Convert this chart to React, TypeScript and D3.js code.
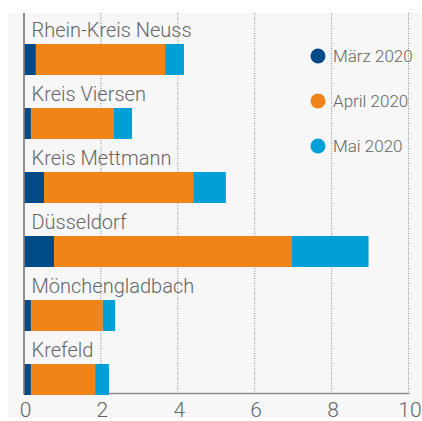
import React, { useRef, useEffect } from "react";
import * as d3 from "d3";

// Kreise / Städte, von oben nach unten
const regions = [
  "Rhein-Kreis Neuss",
  "Kreis Viersen",
  "Kreis Mettmann",
  "Düsseldorf",
  "Mönchengladbach",
  "Krefeld",
];
const seriesNames = ["März 2020", "April 2020", "Mai 2020"];
const maerz = [0.31, 0.18, 0.52, 0.78, 0.18, 0.18];
const april = [3.36, 2.16, 3.88, 6.19, 1.87, 1.67];
const mai = [0.49, 0.47, 0.85, 1.99, 0.32, 0.36];
const xTicks = [0, 2, 4, 6, 8, 10];
const colors = ["#004b87", "#f08419", "#009fd7"];

const App = () => {
  const ref = useRef<SVGSVGElement>(null);

  useEffect(() => {
    if (!ref.current) return;
    const svg = d3.select(ref.current);
    svg.selectAll("*").remove();

    const width = 422;
    const font = "Roboto, 'Open Sans', sans-serif";
    const textColor = "#666666";

    // background panel
    svg
      .append("rect")
      .attr("x", 8)
      .attr("y", 13)
      .attr("width", width - 8)
      .attr("height", 405)
      .attr("fill", "#f7f7f7");

    const x = d3.scaleLinear().domain([0, 10]).range([24, 408.5]);
    const y = d3.scaleBand().domain(regions).range([13, 397]).padding(0);

    const top = 13;
    const bottom = 393.5;

    // dotted gridlines
    svg
      .append("g")
      .selectAll("line")
      .data(xTicks.filter((d) => d > 0))
      .join("line")
      .attr("x1", (d) => x(d))
      .attr("x2", (d) => x(d))
      .attr("y1", top)
      .attr("y2", bottom)
      .attr("stroke", "#8a8a8a")
      .attr("stroke-width", 1)
      .attr("stroke-dasharray", "1,1.5");

    // axis bottom
    svg
      .append("line")
      .attr("x1", x(0))
      .attr("x2", x(10) + 1)
      .attr("y1", bottom)
      .attr("y2", bottom)
      .attr("stroke", "#8a8a8a")
      .attr("stroke-width", 1.5);

    const rows = regions.map((r, i) => ({
      region: r,
      m: maerz[i],
      a: april[i],
      mai: mai[i],
    }));
    const stack = d3.stack<any>().keys(["m", "a", "mai"]);
    const layers = stack(rows);

    const barH = 31;
    const barOffset = 31;

    svg
      .append("g")
      .selectAll("g")
      .data(layers)
      .join("g")
      .attr("fill", (d, i) => colors[i])
      .selectAll("rect")
      .data((d) => d)
      .join("rect")
      .attr("x", (d) => x(d[0]))
      .attr("width", (d) => x(d[1]) - x(d[0]))
      .attr("y", (d) => (y(d.data.region) as number) + barOffset)
      .attr("height", barH);

    // region labels
    svg
      .append("g")
      .selectAll("text")
      .data(regions)
      .join("text")
      .attr("x", 31.5)
      .attr("y", (d) => (y(d) as number) + barOffset - 7.5)
      .attr("fill", textColor)
      .attr("font-family", font)
      .attr("font-weight", 300)
      .attr("font-size", 20)
      .text((d) => d);

    // zero line
    svg
      .append("line")
      .attr("x1", x(0))
      .attr("x2", x(0))
      .attr("y1", top)
      .attr("y2", bottom + 0.75)
      .attr("stroke", "#7d7d7d")
      .attr("stroke-width", 1.7);

    // tick labels
    svg
      .append("g")
      .selectAll("text")
      .data(xTicks)
      .join("text")
      .attr("x", (d) => x(d) + 1.5)
      .attr("y", 416.5)
      .attr("text-anchor", "middle")
      .attr("fill", textColor)
      .attr("font-family", font)
      .attr("font-weight", 300)
      .attr("font-size", 21)
      .text((d) => d);

    // legend
    const legend = svg
      .append("g")
      .selectAll("g")
      .data(seriesNames)
      .join("g")
      .attr("transform", (d, i) => `translate(318, ${56 + i * 45})`);
    legend
      .append("circle")
      .attr("r", 7.5)
      .attr("fill", (d, i) => colors[i]);
    legend
      .append("text")
      .attr("x", 15)
      .attr("y", 6)
      .attr("fill", textColor)
      .attr("font-family", font)
      .attr("font-weight", 300)
      .attr("font-size", 17)
      .text((d) => d);
  }, []);

  return (
    <div style={{ position: "absolute", left: 0, top: 0 }}>
      <svg ref={ref} width={422} height={421} style={{ display: "block" }} />
    </div>
  );
};

export default App;
